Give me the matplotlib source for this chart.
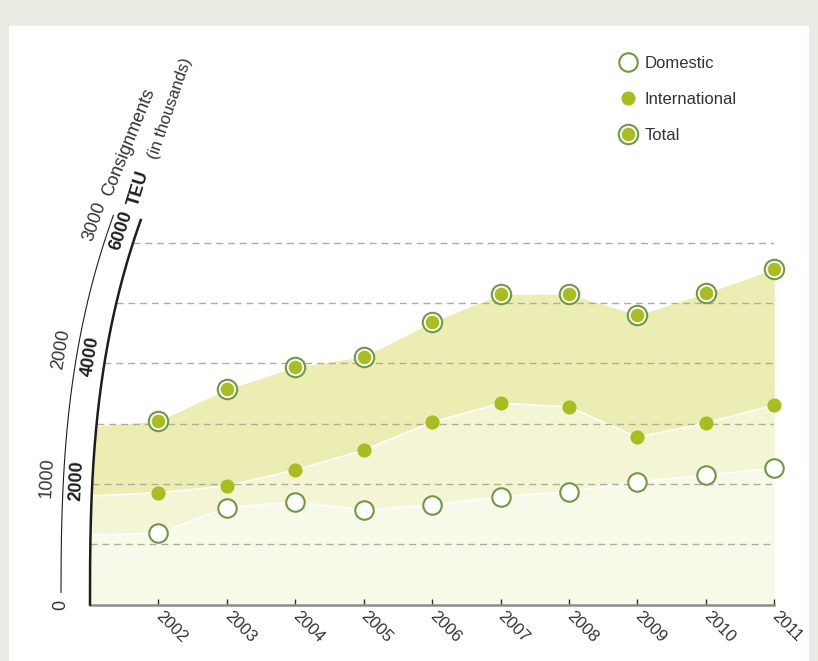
import numpy as np
import matplotlib.pyplot as plt
from matplotlib.patches import Rectangle, Polygon
from matplotlib.lines import Line2D

plt.rcParams['font.family'] = ['Liberation Sans', 'DejaVu Sans']

# data (TEU scale, 1000 consignments = 2000 TEU)
years = [2002, 2003, 2004, 2005, 2006, 2007, 2008, 2009, 2010, 2011]
domestic = [1180, 1604, 1699, 1566, 1649, 1787, 1870, 2035, 2142, 2258]
international = [1853, 1964, 2229, 2556, 3025, 3335, 3274, 2771, 3009, 3307]
total = [3041, 3567, 3932, 4107, 4678, 5142, 5147, 4798, 5159, 5561]

# where the shaded bands start on the left (2001)
start_year = 2001
start_domestic = 1152
start_international = 1798
start_total = 2947

grid_levels = [1000, 2000, 3000, 4000, 5000, 6000]
teu_ticks = [2000, 4000, 6000]
cons_ticks = [0, 1000, 2000, 3000]

green = '#a9bd23'
green_dark = '#6f9944'
text_col = '#333333'

fig = plt.figure(figsize=(8.18, 6.61), dpi=100, facecolor='#ebebe3')
fig.patches.append(Rectangle((8.5 / 818, 0), (809 - 8.5) / 818, (661 - 25.7) / 661,
                             transform=fig.transFigure, facecolor='white',
                             edgecolor='none', zorder=-5))

ax = fig.add_axes([90 / 818, 56.5 / 661, 684.3 / 818, 422.3 / 661])
ax.set_zorder(2)
ax.set_xlim(2001, 2011)
ax.set_ylim(0, 7000)
ax.patch.set_visible(False)


def arc_x(v, shift=0.0):
    # curved value axis, bends to the right as it goes up
    return 2001 + shift + 0.63 * (np.asarray(v, dtype=float) / 6000.0) ** 2.7


def arc_angle(v):
    slope = 0.32 * (v / 6000.0) ** 1.7
    return 90 - np.degrees(np.arctan(slope)), slope


# clip region right of the inner arc
vv = np.linspace(0, 7000, 150)
clip = Polygon(list(zip(arc_x(vv), vv)) + [(2011.5, 7000), (2011.5, 0)],
               closed=True, transform=ax.transData)

bx = [start_year] + years
bd = [start_domestic] + domestic
bi = [start_international] + international
bt = [start_total] + total

fills = [ax.fill_between(bx, 0, bd, color='#f7f9e9', lw=0, zorder=1),
         ax.fill_between(bx, bd, bi, color='#f3f5d5', lw=0, zorder=1),
         ax.fill_between(bx, bi, bt, color='#ebedb3', lw=0, zorder=1)]
for f in fills:
    f.set_clip_path(clip)
for series in [bd, bi]:
    ln, = ax.plot(bx, series, color='white', lw=1.2, zorder=2)
    ln.set_clip_path(clip)

# dashed grid starting at the curved axis
for g in grid_levels:
    ax.plot([float(arc_x(g)), 2011], [g, g], ls=(0, (5, 3.5)), color='#b3ad95',
            lw=1, zorder=3)

# the two curved axes
v1 = np.linspace(0, 6373, 200)
ax.plot(arc_x(v1), v1, color='#1e1e1e', lw=1.8, clip_on=False, zorder=4)
v2 = np.linspace(200, 6450, 200)
ax.plot(arc_x(v2, -0.424), v2, color='#1e1e1e', lw=0.8, clip_on=False, zorder=4)

for t in teu_ticks:
    v = t * 1.02
    rot, s = arc_angle(v)
    n = np.hypot(1, s)
    d = 15
    ax.annotate(str(t), (float(arc_x(v)), v), xytext=(-d / n, d * s / n),
                textcoords='offset pixels', rotation=rot, rotation_mode='anchor',
                ha='center', va='center', fontsize=13, fontweight='bold',
                color='#1e1e1e', annotation_clip=False)

for c in cons_ticks:
    v = 2 * c * 1.045
    rot, s = arc_angle(v)
    n = np.hypot(1, s)
    d = 16 if c > 0 else 0
    ax.annotate(str(c), (float(arc_x(v, -0.424)), v), xytext=(-d / n, d * s / n),
                textcoords='offset pixels', rotation=rot, rotation_mode='anchor',
                ha='center', va='center', fontsize=13, color=text_col,
                annotation_clip=False)

top_in = 6373
top_out = 6450
ax.annotate('TEU', (float(arc_x(top_in)), top_in), xytext=(-3, 13),
            textcoords='offset pixels', rotation=73, rotation_mode='anchor',
            ha='left', va='baseline', fontsize=13, fontweight='bold',
            color='#1e1e1e', annotation_clip=False)
ax.annotate('Consignments', (float(arc_x(top_out, -0.424)), top_out), xytext=(-2, 18),
            textcoords='offset pixels', rotation=68, rotation_mode='anchor',
            ha='left', va='baseline', fontsize=13, color=text_col,
            annotation_clip=False)
ax.annotate('(in thousands)', (float(arc_x(top_out, -0.424)), top_out), xytext=(44, 55),
            textcoords='offset pixels', rotation=71, rotation_mode='anchor',
            ha='left', va='baseline', fontsize=12, color=text_col,
            annotation_clip=False)

# markers
ax.plot(years, domestic, 'o', ms=13.3, mfc='white', mec=green_dark, mew=1.5,
        ls='none', zorder=5, clip_on=False)
ax.plot(years, international, 'o', ms=10.2, mfc=green, mec='none',
        ls='none', zorder=5, clip_on=False)
ax.plot(years, total, 'o', ms=14, mfc='white', mec=green_dark, mew=1.5,
        ls='none', zorder=5, clip_on=False)
ax.plot(years, total, 'o', ms=9.8, mfc=green, mec='none',
        ls='none', zorder=6, clip_on=False)

# x axis
ax.set_yticks([])
for s in ['left', 'top', 'right']:
    ax.spines[s].set_visible(False)
ax.spines['bottom'].set_color('#8c8c8c')
ax.spines['bottom'].set_linewidth(1.8)
ax.set_xticks(years)
ax.set_xticklabels([str(y) for y in years], rotation=-45, ha='left', va='center',
                   rotation_mode='anchor', fontsize=12, color=text_col)
ax.tick_params(axis='x', direction='in', length=4, width=1, color='#333333', pad=7)

# legend
h_dom = Line2D([], [], marker='o', ls='none', ms=13.3, mfc='white', mec=green_dark, mew=1.5)
h_int = Line2D([], [], marker='o', ls='none', ms=10.2, mfc=green, mec='none')
h_tot_out = Line2D([], [], marker='o', ls='none', ms=14, mfc='white', mec=green_dark, mew=1.5)
h_tot_in = Line2D([], [], marker='o', ls='none', ms=9.8, mfc=green, mec='none')
leg = fig.legend([h_dom, h_int, (h_tot_out, h_tot_in)], ['Domestic', 'International', 'Total'],
                 loc='upper left', bbox_to_anchor=(620 / 818, 1 - 56 / 661),
                 frameon=False, fontsize=12, labelspacing=1.25, handlelength=0.95,
                 handletextpad=0.5, borderpad=0, borderaxespad=0)
for t in leg.get_texts():
    t.set_color(text_col)

fig.savefig('out.png', dpi=100, facecolor=fig.get_facecolor())
